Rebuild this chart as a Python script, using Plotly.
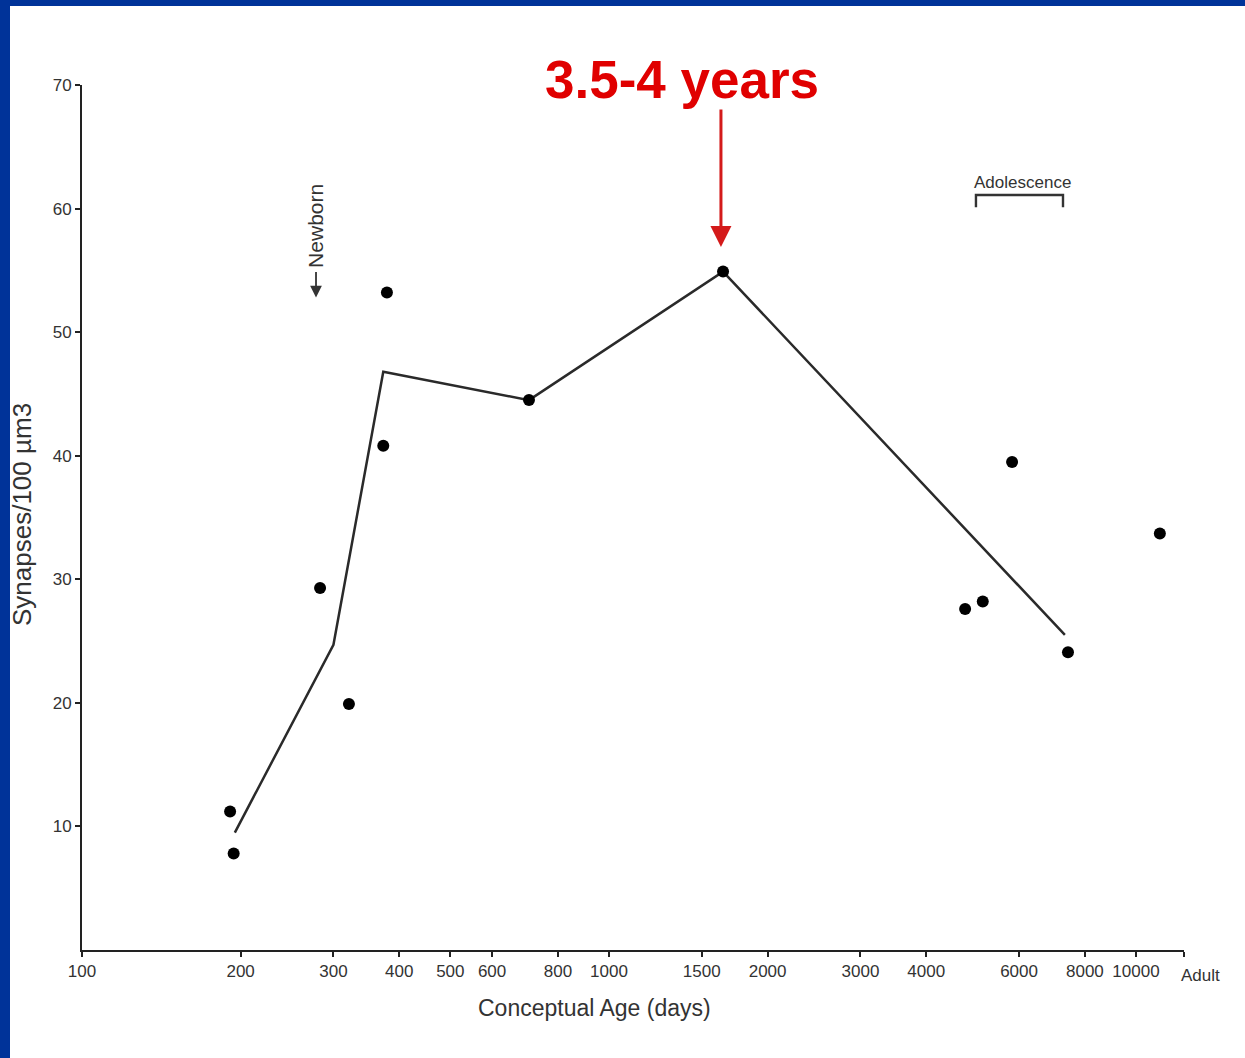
import math
import plotly.graph_objects as go

# ---- data ----
point_age = [191, 194, 283, 321, 373, 379, 705, 1646, 4740, 5120, 5820, 7430, 11100]
point_syn = [11.2, 7.8, 29.3, 19.9, 40.8, 53.2, 44.5, 54.9, 27.6, 28.2, 39.5, 24.1, 33.7]

fit_age = [195, 300, 373, 705, 1646, 7330]
fit_syn = [9.5, 24.7, 46.8, 44.5, 54.9, 25.5]

x_tickvals = [100, 200, 300, 400, 500, 600, 800, 1000, 1500, 2000, 3000, 4000, 6000, 8000, 10000, 12335]
x_ticktext = ["100", "200", "300", "400", "500", "600", "800", "1000", "1500", "2000", "3000", "4000",
              "6000", "8000", "10000", ""]
y_tickvals = [10, 20, 30, 40, 50, 60, 70]

adolescence_start = 4970
adolescence_end = 7270
peak_age = 1631
newborn_age = 278

# ---- layout constants ----
W, H = 1245, 1058
L, R, T, B = 82, 61, 85, 108
PW, PH = W - L - R, H - T - B
XMAX = 12335
txt = "#333333"
axc = "#222222"


def px_to_paper_x(px):
    return (px - L) / PW


def px_to_paper_y(py):
    return (H - B - py) / PH


fig = go.Figure()

fig.add_trace(go.Scatter(x=fit_age, y=fit_syn, mode="lines",
                         line=dict(color="#2a2a2a", width=2.5), showlegend=False, hoverinfo="skip"))
fig.add_trace(go.Scatter(x=point_age, y=point_syn, mode="markers",
                         marker=dict(color="black", size=12), showlegend=False))

# adolescence bracket
fig.add_trace(go.Scatter(x=[adolescence_start, adolescence_start, adolescence_end, adolescence_end],
                         y=[60.1, 61.1, 61.1, 60.1], mode="lines",
                         line=dict(color="#333", width=2.4), showlegend=False, hoverinfo="skip"))

annotations = [
    # axis titles
    dict(text="Conceptual Age (days)", xref="paper", yref="paper",
         x=px_to_paper_x(594), y=px_to_paper_y(1008), showarrow=False,
         font=dict(size=23, color=txt), xanchor="center", yanchor="middle"),
    dict(text="Synapses/100 µm3", xref="paper", yref="paper",
         x=px_to_paper_x(22), y=px_to_paper_y(515), showarrow=False, textangle=-90,
         font=dict(size=26, color=txt), xanchor="center", yanchor="middle"),
    dict(text="Adult", xref="paper", yref="paper",
         x=px_to_paper_x(1200), y=px_to_paper_y(975), showarrow=False,
         font=dict(size=17, color=txt), xanchor="center", yanchor="middle"),
    # red title and arrow
    dict(text="<b>3.5-4 years</b>", xref="paper", yref="paper",
         x=px_to_paper_x(682), y=px_to_paper_y(80), showarrow=False,
         font=dict(size=53, color="#e00000", family="Arial, Liberation Sans, sans-serif"),
         xanchor="center", yanchor="middle"),
    dict(text="", x=math.log10(peak_age), y=56.9, xref="x", yref="y",
         showarrow=True, ax=0, ay=-139, arrowhead=2, arrowsize=1.4, arrowwidth=3,
         arrowcolor="#d41a1a"),
    # newborn
    dict(text="Newborn", x=math.log10(newborn_age), y=58.6, xref="x", yref="y",
         showarrow=False, textangle=-90, font=dict(size=21, color=txt),
         xanchor="center", yanchor="middle"),
    dict(text="", x=math.log10(newborn_age), y=52.8, xref="x", yref="y",
         showarrow=True, ax=0, ay=-27, arrowhead=2, arrowsize=1.3, arrowwidth=1.8,
         arrowcolor="#333"),
    # adolescence
    dict(text="Adolescence", x=math.log10(6103), y=62.1, xref="x", yref="y",
         showarrow=False, font=dict(size=17, color=txt), xanchor="center", yanchor="middle"),
]

blue = "#003399"
shapes = [
    dict(type="rect", xref="paper", yref="paper",
         x0=px_to_paper_x(-5), x1=px_to_paper_x(10), y0=px_to_paper_y(H + 5), y1=px_to_paper_y(-5),
         fillcolor=blue, line=dict(width=0), layer="above"),
    dict(type="rect", xref="paper", yref="paper",
         x0=px_to_paper_x(-5), x1=px_to_paper_x(W + 5), y0=px_to_paper_y(6), y1=px_to_paper_y(-5),
         fillcolor=blue, line=dict(width=0), layer="above"),
]

fig.update_layout(
    width=W, height=H,
    margin=dict(l=L, r=R, t=T, b=B),
    paper_bgcolor="white", plot_bgcolor="white",
    font=dict(family="Arial, Liberation Sans, sans-serif", color=txt),
    annotations=annotations, shapes=shapes,
    showlegend=False,
    xaxis=dict(type="log", range=[2, math.log10(XMAX)], tickvals=x_tickvals, ticktext=x_ticktext,
               showline=True, linecolor=axc, linewidth=2, ticks="outside", ticklen=5,
               tickwidth=1.5, tickcolor=axc, showgrid=False, zeroline=False,
               tickfont=dict(size=17, color=txt)),
    yaxis=dict(range=[0, 70], tickvals=y_tickvals, showline=True, linecolor=axc, linewidth=2,
               ticks="outside", ticklen=5, tickwidth=1.5, tickcolor=axc, showgrid=False,
               zeroline=False, tickfont=dict(size=17, color=txt)),
)

fig.write_html("out.html")
